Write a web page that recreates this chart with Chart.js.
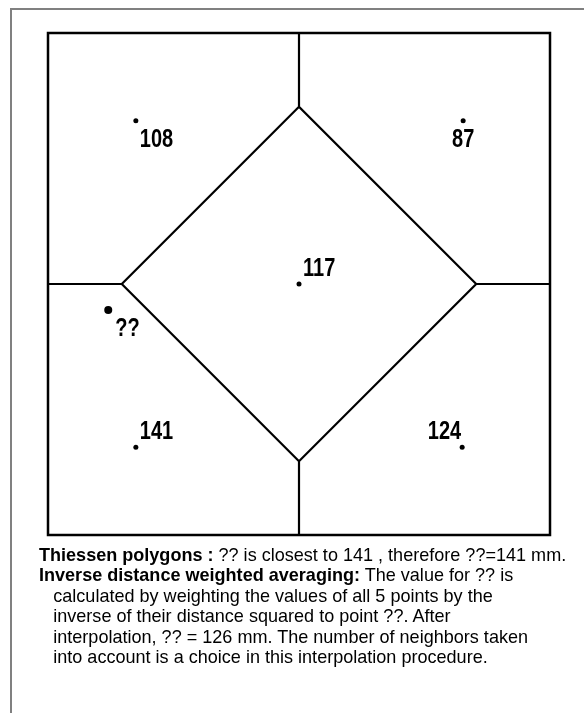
<!DOCTYPE html>
<html>
<head>
<meta charset="utf-8">
<script src="https://cdn.jsdelivr.net/npm/chart.js@4"></script>
<style>
  html, body { margin: 0; padding: 0; background: #fff; }
  #wrap { position: relative; width: 584px; height: 713px; overflow: hidden; }
  #frame { position: absolute; left: 10px; top: 8px; right: -4px; bottom: -4px;
           border-left: 2px solid #808080; border-top: 2px solid #808080; }
  #map { position: absolute; left: 0; top: 0; }
  #caption { position: absolute; left: 39px; top: 545px; width: 700px;
             font-family: "Liberation Sans", Arial, sans-serif;
             font-size: 19px; line-height: 20.4px; color: #000;
             transform: scaleX(0.95); transform-origin: 0 0; white-space: nowrap; }
  #caption div.ind { padding-left: 15px; }
</style>
</head>
<body>
<div id="wrap">
  <div id="frame"></div>
  <canvas id="map" width="584" height="713"></canvas>
  <div id="caption">
    <div><b>Thiessen polygons :</b> ?? is closest to 141 , therefore ??=141 mm.</div>
    <div><b>Inverse distance weighted averaging:</b> The value for ?? is</div>
    <div class="ind">calculated by weighting the values of all 5 points by the</div>
    <div class="ind">inverse of their distance squared to point ??. After</div>
    <div class="ind">interpolation, ?? = 126 mm. The number of neighbors taken</div>
    <div class="ind">into account is a choice in this interpolation procedure.</div>
  </div>
</div>
<script>
// rain gauge stations (map units, box is 0..10 on both axes)
const stationX = [1.75, 8.27, 5.0, 1.75, 8.25]
const stationY = [8.25, 8.25, 5.0, 1.75, 1.75]
const stationValue = [108, 87, 117, 141, 124]

// point to interpolate
const targetX = [1.2]
const targetY = [4.48]
const targetLabel = ['??']

// Thiessen polygon edges (null breaks the line between segments)
const edgeX = [5, 5, 8.53, 5, 1.47, 5, null, 0, 1.47, null, 8.53, 10, null, 5, 5]
const edgeY = [10, 8.53, 5, 1.47, 5, 8.53, null, 5, 5, null, 5, 5, null, 1.47, 0]

// label placement per point: [dx, dy, align]
const stationLabelPos = [[4, 19, 'left'], [0, 19, 'center'], [4, -15, 'left'], [4, -15, 'left'], [-1, -15, 'right']]
const targetLabelPos = [[7, 19, 'left']]

const toPts = (xs, ys) => xs.map((x, i) => (x === null ? { x: null, y: null } : { x: x, y: ys[i] }))

const boxPlugin = {
  id: 'box',
  afterDatasetsDraw(chart) {
    const { ctx, chartArea: a } = chart
    ctx.save()
    ctx.strokeStyle = '#000'
    ctx.lineWidth = 2.5
    ctx.strokeRect(a.left, a.top, a.right - a.left, a.bottom - a.top)
    ctx.restore()
  }
}

const labelPlugin = {
  id: 'pointLabels',
  afterDatasetsDraw(chart) {
    const { ctx } = chart
    const xs = chart.scales.x, ys = chart.scales.y
    const put = (x, y, text, pos) => {
      ctx.save()
      ctx.fillStyle = '#000'
      ctx.font = 'bold 25px "Liberation Sans", Arial, sans-serif'
      ctx.textBaseline = 'middle'
      ctx.textAlign = pos[2]
      // condensed look
      ctx.translate(xs.getPixelForValue(x) + pos[0], ys.getPixelForValue(y) + pos[1])
      ctx.scale(0.8, 1)
      ctx.fillText(text, 0, 0)
      ctx.restore()
    }
    stationX.forEach((x, i) => put(x, stationY[i], String(stationValue[i]), stationLabelPos[i]))
    targetX.forEach((x, i) => put(x, targetY[i], targetLabel[i], targetLabelPos[i]))
  }
}

new Chart(document.getElementById('map'), {
  type: 'scatter',
  data: {
    datasets: [
      {
        label: 'edges', type: 'line', data: toPts(edgeX, edgeY), spanGaps: false,
        borderColor: '#000', borderWidth: 2.2, pointRadius: 0, tension: 0
      },
      {
        label: 'stations', data: toPts(stationX, stationY),
        backgroundColor: '#000', borderColor: '#000', pointRadius: 2.5, borderWidth: 0
      },
      {
        label: 'target', data: toPts(targetX, targetY),
        backgroundColor: '#000', borderColor: '#000', pointRadius: 4, borderWidth: 0
      }
    ]
  },
  options: {
    responsive: false,
    animation: false,
    layout: { padding: { left: 48, top: 33, right: 34, bottom: 178 } },
    plugins: { legend: { display: false }, tooltip: { enabled: false } },
    scales: {
      x: { type: 'linear', min: 0, max: 10, display: false },
      y: { type: 'linear', min: 0, max: 10, display: false }
    }
  },
  plugins: [boxPlugin, labelPlugin]
})
</script>
</body>
</html>
